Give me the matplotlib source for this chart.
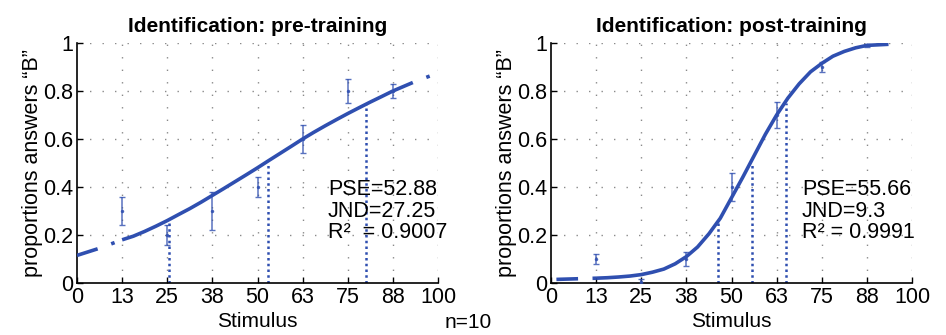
import matplotlib
matplotlib.use("Agg")
import matplotlib.pyplot as plt

plt.rcParams['font.family'] = ['Liberation Sans', 'DejaVu Sans']

# stimulus ticks
tick_pos = [0, 12.5, 25, 37.5, 50, 62.5, 75, 87.5, 100]
tick_labels = ["0", "13", "25", "38", "50", "63", "75", "88", "100"]
y_ticks = [0, 0.2, 0.4, 0.6, 0.8, 1]
y_tick_labels = ["0", "0.2", "0.4", "0.6", "0.8", "1"]

# measured proportions (pre-training)
stim = [12.5, 25, 37.5, 50, 62.5, 75, 87.5]
pre_mean = [0.30, 0.20, 0.30, 0.40, 0.60, 0.80, 0.80]
pre_err = [0.06, 0.04, 0.08, 0.04, 0.06, 0.05, 0.03]
# fitted curve (pre-training)
pre_fit_x = [12.5, 15.6, 18.75, 21.9, 25, 28.1, 31.25, 34.4, 37.5, 40.6, 43.75, 46.9,
             50, 53.1, 56.25, 59.4, 62.5, 65.6, 68.75, 71.9, 75, 78.1, 81.25, 84.4, 87.5]
pre_fit_y = [0.18, 0.195, 0.215, 0.237, 0.26, 0.285, 0.31, 0.337, 0.365, 0.393, 0.422, 0.451,
             0.48, 0.51, 0.54, 0.57, 0.60, 0.628, 0.655, 0.681, 0.706, 0.73, 0.754, 0.777, 0.80]
pre_ext_lo_x = [0, 6.25, 12.5]
pre_ext_lo_y = [0.115, 0.145, 0.18]
pre_ext_hi_x = [87.5, 93.75, 100]
pre_ext_hi_y = [0.80, 0.84, 0.875]
pre_marks_x = [25.6, 52.88, 80.1]
pre_marks_y = [0.25, 0.50, 0.75]

# measured proportions (post-training)
post_mean = [0.10, 0.005, 0.10, 0.40, 0.70, 0.90, 0.99]
post_err = [0.02, 0.01, 0.03, 0.06, 0.055, 0.02, 0.005]
post_fit_x = pre_fit_x
post_fit_y = [0.02, 0.022, 0.025, 0.029, 0.035, 0.045, 0.058, 0.08, 0.11, 0.15, 0.205, 0.27,
              0.355, 0.44, 0.53, 0.62, 0.70, 0.77, 0.83, 0.88, 0.915, 0.945, 0.965, 0.98, 0.99]
post_ext_lo_x = [1.5, 12.5]
post_ext_lo_y = [0.015, 0.02]
post_ext_hi_x = [87.5, 94]
post_ext_hi_y = [0.99, 0.995]
post_marks_x = [46.36, 55.66, 64.96]
post_marks_y = [0.25, 0.50, 0.75]

blue = "#2f4fb0"

fig = plt.figure(figsize=(9.46, 3.35), dpi=100)
ax1 = fig.add_axes([77 / 946, 52 / 335, 361 / 946, 240 / 335])
ax2 = fig.add_axes([551 / 946, 52 / 335, 361 / 946, 240 / 335])


def draw_panel(ax, title, mean, err, fx, fy, lx, ly, hx, hy, mx, my, stats, ext_style):
    for x in tick_pos[1:]:
        ax.plot([x, x], [0, 1], color="#8a8a8a", linestyle=(0, (1, 8)), linewidth=1.0, zorder=1)
    for y in y_ticks[1:]:
        ax.plot([0, 100], [y, y], color="#8a8a8a", linestyle=(0, (1, 8)), linewidth=1.0, zorder=1)
    ax.errorbar(stim, mean, yerr=err, fmt=".", color=blue, markersize=3,
                elinewidth=1.1, capsize=2.5, capthick=1.0, alpha=0.8, zorder=3)
    ax.plot(fx, fy, color=blue, linewidth=2.6, solid_capstyle="butt", zorder=4)
    ax.plot(lx, ly, color=blue, linewidth=2.6, linestyle=ext_style, zorder=4)
    ax.plot(hx, hy, color=blue, linewidth=2.6, linestyle=ext_style, zorder=4)
    for x, y in zip(mx, my):
        ax.plot([x, x], [0, y], color=blue, linewidth=1.8, linestyle=(0, (1, 1.3)), zorder=2)
    ax.set_xlim(0, 100)
    ax.set_ylim(0, 1)
    ax.set_xticks(tick_pos)
    ax.set_xticklabels(tick_labels)
    ax.set_yticks(y_ticks)
    ax.set_yticklabels(y_tick_labels)
    ax.tick_params(direction="in", length=4, labelsize=15.5, width=1, pad=3)
    ax.spines["top"].set_visible(False)
    ax.spines["right"].set_visible(False)
    for s in ("left", "bottom"):
        ax.spines[s].set_linewidth(1.2)
    ax.set_title(title, fontsize=15, fontweight="bold", pad=8)
    ax.set_xlabel("Stimulus", fontsize=15, labelpad=3)
    ax.set_ylabel("proportions answers \u201cB\u201d", fontsize=15.5, labelpad=0)
    ax.text(0.695, 0.165, stats, transform=ax.transAxes, fontsize=15.5,
            va="bottom", ha="left", linespacing=1.05)


draw_panel(ax1, "Identification: pre-training", pre_mean, pre_err,
           pre_fit_x, pre_fit_y, pre_ext_lo_x, pre_ext_lo_y, pre_ext_hi_x, pre_ext_hi_y,
           pre_marks_x, pre_marks_y,
           "PSE=52.88\nJND=27.25\nR\u00b2  = 0.9007", (0, (6, 4, 1, 4)))
draw_panel(ax2, "Identification: post-training", post_mean, post_err,
           post_fit_x, post_fit_y, post_ext_lo_x, post_ext_lo_y, post_ext_hi_x, post_ext_hi_y,
           post_marks_x, post_marks_y,
           "PSE=55.66\nJND=9.3\nR\u00b2 = 0.9991", (0, (6, 4, 1, 4)))

fig.text(445 / 946, 1 - 322 / 335, "n=10", fontsize=15, ha="left", va="center")

fig.savefig("out.png", dpi=100)
